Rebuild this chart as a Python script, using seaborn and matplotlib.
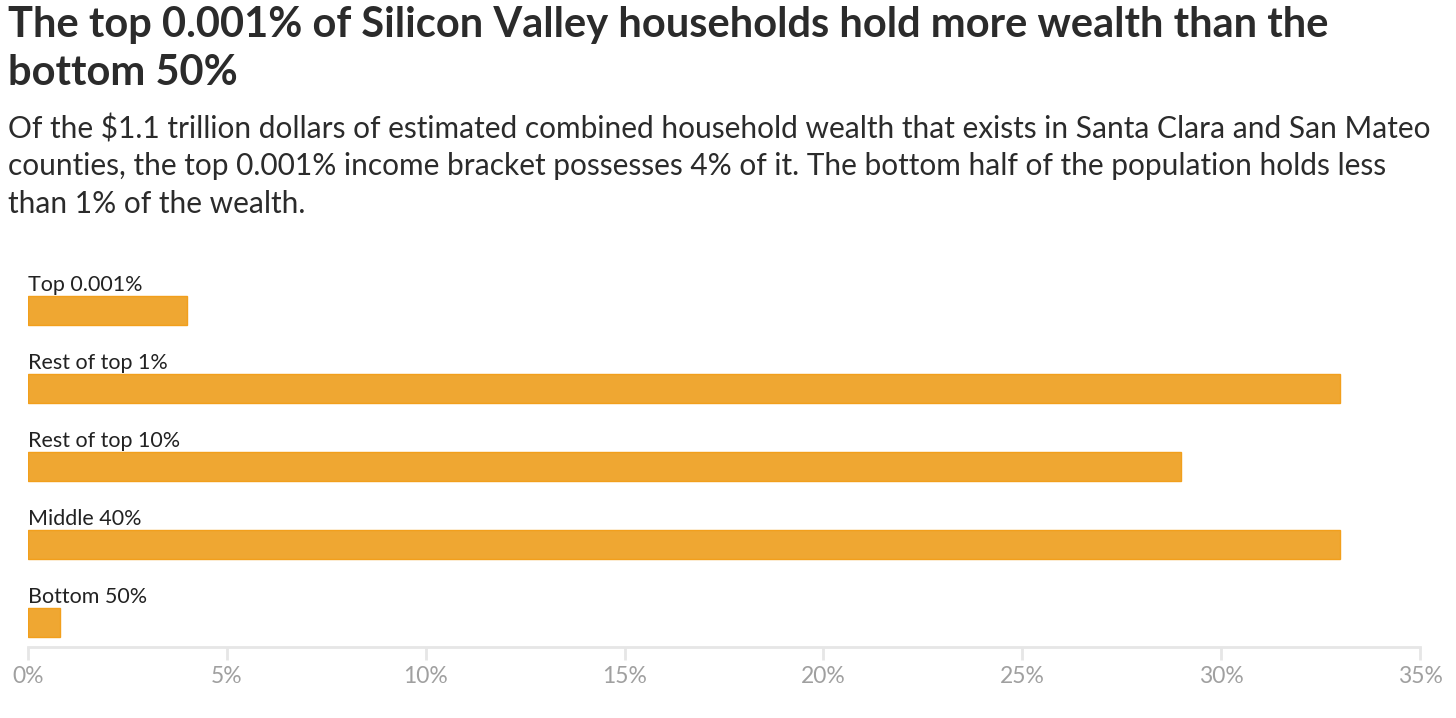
import matplotlib
matplotlib.use("Agg")
import matplotlib.pyplot as plt
import seaborn as sns
import pandas as pd
from matplotlib.ticker import FuncFormatter

categories = ["Top 0.001%", "Rest of top 1%", "Rest of top 10%", "Middle 40%", "Bottom 50%"]
shares = [4.0, 33.0, 29.0, 33.0, 0.8]
xticks = [0, 5, 10, 15, 20, 25, 30, 35]

title_lines = ["The top 0.001% of Silicon Valley households hold more wealth than the",
               "bottom 50%"]
subtitle_lines = ["Of the $1.1 trillion dollars of estimated combined household wealth that exists in Santa Clara and San Mateo",
                  "counties, the top 0.001% income bracket possesses 4% of it. The bottom half of the population holds less",
                  "than 1% of the wealth."]

sns.set_theme(style="white")
plt.rcParams['font.family'] = ['Lato', 'DejaVu Sans']

df = pd.DataFrame({"category": categories, "share": shares})

W, H = 1456, 718
fig = plt.figure(figsize=(W / 100, H / 100), dpi=100)
ax = fig.add_axes([28 / W, 1 - 647 / H, (1420 - 28) / W, (647 - 260) / H])

sns.barplot(data=df, x="share", y="category", ax=ax, color="#EFA732",
            width=0.372, edgecolor="#F29F1C", linewidth=1.0, saturation=1)

ax.set_xlim(0, 35)
ax.set_ylim(4.314, -0.647)
ax.set_xticks(xticks)
ax.xaxis.set_major_formatter(FuncFormatter(lambda v, p: f"{v:.0f}%"))
ax.set_yticks([])
ax.set_xlabel("")
ax.set_ylabel("")
for s in ["top", "right", "left"]:
    ax.spines[s].set_visible(False)
ax.spines["bottom"].set_color("#E6E6E6")
ax.spines["bottom"].set_linewidth(2)
ax.tick_params(axis="x", bottom=True, colors="#E6E6E6", length=9.5, width=2, direction="out",
               labelcolor="#A0A0A0", labelsize=16.5, pad=4.5)
ax.tick_params(axis="y", length=0, left=False)

for i, c in enumerate(categories):
    ax.annotate(c, xy=(0, i - 0.186), xytext=(0, 5), textcoords="offset pixels",
                ha="left", va="baseline", fontsize=15.5, color="#222222",
                annotation_clip=False)

title_baselines = [37, 85]
for txt, yb in zip(title_lines, title_baselines):
    fig.text(8 / W, 1 - yb / H, txt, ha="left", va="baseline", fontsize=30,
             fontweight="bold", color="#2B2B2B")

sub_baselines = [138, 175.5, 213]
for txt, yb in zip(subtitle_lines, sub_baselines):
    fig.text(8 / W, 1 - yb / H, txt, ha="left", va="baseline", fontsize=21.5,
             color="#2B2B2B")

fig.savefig("out.png", dpi=100)
